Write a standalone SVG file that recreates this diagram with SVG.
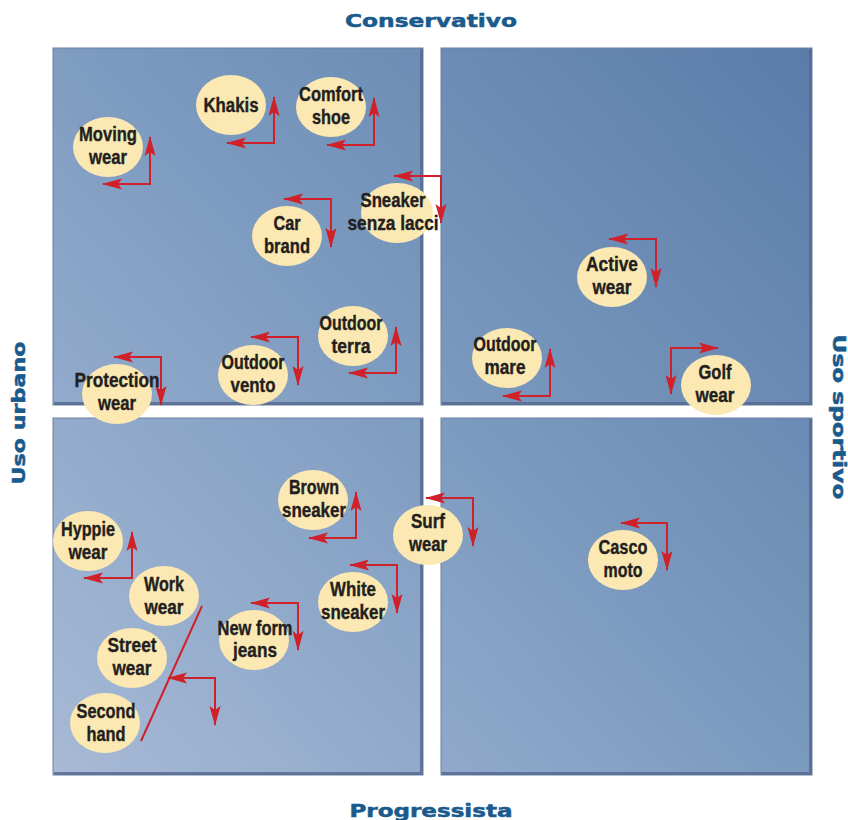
<svg xmlns="http://www.w3.org/2000/svg" width="848" height="820" viewBox="0 0 848 820">
<defs>
<linearGradient id="bg" gradientUnits="userSpaceOnUse" x1="52" y1="775" x2="812" y2="48">
<stop offset="0" stop-color="#a7bad6"/>
<stop offset="0.5" stop-color="#7d9bc0"/>
<stop offset="1" stop-color="#5a7ca9"/>
</linearGradient>
<marker id="ah" viewBox="0 0 20 12" refX="19" refY="6" markerWidth="20" markerHeight="12" markerUnits="userSpaceOnUse" orient="auto-start-reverse">
<path d="M0,0.5 L20,6 L0,11.5 L4,6 Z" fill="#d0202a"/>
</marker>
</defs>
<style>
.panel{fill:url(#bg);stroke:#6a80a2;stroke-width:1}
.edge{fill:none;stroke:#566b8f;stroke-width:3;opacity:0.85}
.node ellipse{fill:#fbe8b2}
.node text{font-family:"Liberation Sans",Arial,sans-serif;font-weight:bold;font-size:20.5px;fill:#231f20;text-anchor:middle;stroke:#231f20;stroke-width:0.4}
.axis{font-family:"DejaVu Sans","Liberation Sans",sans-serif;font-weight:bold;font-size:17.5px;fill:#1a5a8c;text-anchor:middle;stroke:#1a5a8c;stroke-width:0.5}
.arr{fill:none;stroke:#d0202a;stroke-width:2;marker-start:url(#ah);marker-end:url(#ah)}
.ln{fill:none;stroke:#d0202a;stroke-width:2}
</style>
<rect width="848" height="820" fill="#ffffff"/>
<g id="quadrants">
<rect class="panel" x="53" y="48" width="370" height="357"/>
<rect class="panel" x="441" y="48" width="371" height="357"/>
<rect class="panel" x="53" y="418" width="370" height="357"/>
<rect class="panel" x="441" y="418" width="371" height="357"/>
<path class="edge" d="M54,403.5 H421.5 V49"/>
<path class="edge" d="M442,403.5 H810.5 V49"/>
<path class="edge" d="M54,773.5 H421.5 V419"/>
<path class="edge" d="M442,773.5 H810.5 V419"/>
</g>
<g id="axes">
<text class="axis" x="431" y="27" textLength="172" lengthAdjust="spacingAndGlyphs">Conservativo</text>
<text class="axis" x="431" y="817" textLength="163" lengthAdjust="spacingAndGlyphs">Progressista</text>
<text class="axis" transform="translate(25,413) rotate(-90)" x="0" y="0" textLength="143" lengthAdjust="spacingAndGlyphs">Uso urbano</text>
<text class="axis" transform="translate(833,417) rotate(90)" x="0" y="0" textLength="165" lengthAdjust="spacingAndGlyphs">Uso sportivo</text>
</g>
<g id="connectors">
<path class="arr" d="M227,143 L274,143 L274,97"/>
<path class="arr" d="M327,145 L374,145 L374,98"/>
<path class="arr" d="M103,184 L150,184 L150,137"/>
<path class="arr" d="M394,176 L441,176 L441,223"/>
<path class="arr" d="M284,199 L331,199 L331,247"/>
<path class="arr" d="M251,337 L298,337 L298,385"/>
<path class="arr" d="M349,373 L396,373 L396,327"/>
<path class="arr" d="M114,357 L161,357 L161,405"/>
<path class="arr" d="M609,239 L656,239 L656,287"/>
<path class="arr" d="M503,396 L550,396 L550,349"/>
<path class="arr" d="M718,348 L671,348 L671,394"/>
<path class="arr" d="M309,538 L356,538 L356,492"/>
<path class="arr" d="M84,578 L132,578 L132,532"/>
<path class="arr" d="M350,565 L397,565 L397,613"/>
<path class="arr" d="M251,603 L298,603 L298,650"/>
<path class="arr" d="M168,678 L215,678 L215,725"/>
<path class="ln" d="M202,606 L141,741"/>
<path class="arr" d="M426,498 L473,498 L473,546"/>
<path class="arr" d="M621,523 L667,523 L667,570"/>
</g>
<g id="khakis" class="node"><ellipse cx="231" cy="105" rx="35" ry="30"/><text x="231" y="112" textLength="55" lengthAdjust="spacingAndGlyphs">Khakis</text></g>
<g id="comfort-shoe" class="node"><ellipse cx="331" cy="107" rx="35" ry="30"/><text x="331" y="101" textLength="64" lengthAdjust="spacingAndGlyphs">Comfort</text><text x="331" y="124" textLength="38" lengthAdjust="spacingAndGlyphs">shoe</text></g>
<g id="moving-wear" class="node"><ellipse cx="108" cy="147" rx="35" ry="30"/><text x="108" y="141" textLength="58" lengthAdjust="spacingAndGlyphs">Moving</text><text x="108" y="164" textLength="38" lengthAdjust="spacingAndGlyphs">wear</text></g>
<g id="sneaker-senza-lacci" class="node"><ellipse cx="397" cy="213" rx="36" ry="30"/><text x="393" y="207" textLength="65" lengthAdjust="spacingAndGlyphs">Sneaker</text><text x="393" y="230" textLength="91" lengthAdjust="spacingAndGlyphs">senza lacci</text></g>
<g id="car-brand" class="node"><ellipse cx="287" cy="236" rx="35" ry="30"/><text x="287" y="230" textLength="27" lengthAdjust="spacingAndGlyphs">Car</text><text x="287" y="253" textLength="46" lengthAdjust="spacingAndGlyphs">brand</text></g>
<g id="outdoor-terra" class="node"><ellipse cx="353" cy="336" rx="35" ry="30"/><text x="351" y="330" textLength="63" lengthAdjust="spacingAndGlyphs">Outdoor</text><text x="351" y="353" textLength="39" lengthAdjust="spacingAndGlyphs">terra</text></g>
<g id="outdoor-vento" class="node"><ellipse cx="253" cy="375" rx="35" ry="30"/><text x="253" y="369" textLength="63" lengthAdjust="spacingAndGlyphs">Outdoor</text><text x="253" y="392" textLength="45" lengthAdjust="spacingAndGlyphs">vento</text></g>
<g id="protection-wear" class="node"><ellipse cx="117" cy="394" rx="35" ry="30"/><text x="117" y="387" textLength="85" lengthAdjust="spacingAndGlyphs">Protection</text><text x="117" y="410" textLength="38" lengthAdjust="spacingAndGlyphs">wear</text></g>
<g id="active-wear" class="node"><ellipse cx="612" cy="277" rx="35" ry="30"/><text x="612" y="271" textLength="52" lengthAdjust="spacingAndGlyphs">Active</text><text x="612" y="294" textLength="39" lengthAdjust="spacingAndGlyphs">wear</text></g>
<g id="outdoor-mare" class="node"><ellipse cx="507" cy="358" rx="35" ry="30"/><text x="505" y="351" textLength="63" lengthAdjust="spacingAndGlyphs">Outdoor</text><text x="505" y="374" textLength="41" lengthAdjust="spacingAndGlyphs">mare</text></g>
<g id="golf-wear" class="node"><ellipse cx="716" cy="385" rx="35" ry="30"/><text x="715" y="379" textLength="33" lengthAdjust="spacingAndGlyphs">Golf</text><text x="715" y="402" textLength="39" lengthAdjust="spacingAndGlyphs">wear</text></g>
<g id="brown-sneaker" class="node"><ellipse cx="313" cy="500" rx="35" ry="30"/><text x="314" y="494" textLength="50" lengthAdjust="spacingAndGlyphs">Brown</text><text x="314" y="517" textLength="64" lengthAdjust="spacingAndGlyphs">sneaker</text></g>
<g id="hyppie-wear" class="node"><ellipse cx="88" cy="541" rx="35" ry="30"/><text x="88" y="536" textLength="54" lengthAdjust="spacingAndGlyphs">Hyppie</text><text x="88" y="559" textLength="39" lengthAdjust="spacingAndGlyphs">wear</text></g>
<g id="work-wear" class="node"><ellipse cx="164" cy="596" rx="35" ry="30"/><text x="164" y="591" textLength="40" lengthAdjust="spacingAndGlyphs">Work</text><text x="164" y="614" textLength="39" lengthAdjust="spacingAndGlyphs">wear</text></g>
<g id="street-wear" class="node"><ellipse cx="132" cy="658" rx="35" ry="30"/><text x="132" y="652" textLength="49" lengthAdjust="spacingAndGlyphs">Street</text><text x="132" y="675" textLength="39" lengthAdjust="spacingAndGlyphs">wear</text></g>
<g id="second-hand" class="node"><ellipse cx="105" cy="723" rx="35" ry="30"/><text x="106" y="718" textLength="59" lengthAdjust="spacingAndGlyphs">Second</text><text x="106" y="741" textLength="39" lengthAdjust="spacingAndGlyphs">hand</text></g>
<g id="new-form-jeans" class="node"><ellipse cx="254" cy="640" rx="35" ry="30"/><text x="255" y="635" textLength="75" lengthAdjust="spacingAndGlyphs">New form</text><text x="255" y="657" textLength="44" lengthAdjust="spacingAndGlyphs">jeans</text></g>
<g id="white-sneaker" class="node"><ellipse cx="353" cy="602" rx="35" ry="30"/><text x="353" y="596" textLength="46" lengthAdjust="spacingAndGlyphs">White</text><text x="353" y="619" textLength="64" lengthAdjust="spacingAndGlyphs">sneaker</text></g>
<g id="surf-wear" class="node"><ellipse cx="428" cy="535" rx="35" ry="30"/><text x="428" y="528" textLength="34" lengthAdjust="spacingAndGlyphs">Surf</text><text x="428" y="551" textLength="38" lengthAdjust="spacingAndGlyphs">wear</text></g>
<g id="casco-moto" class="node"><ellipse cx="623" cy="560" rx="35" ry="30"/><text x="623" y="554" textLength="49" lengthAdjust="spacingAndGlyphs">Casco</text><text x="623" y="577" textLength="39" lengthAdjust="spacingAndGlyphs">moto</text></g>
</svg>
